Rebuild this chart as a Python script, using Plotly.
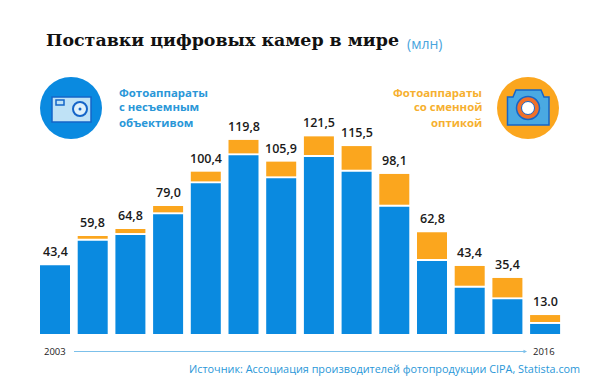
import plotly.graph_objects as go

years = list(range(2003, 2017))
labels = ["43,4", "59,8", "64,8", "79,0", "100,4", "119,8", "105,9", "121,5", "115,5", "98,1", "62,8", "43,4", "35,4", "13.0"]
fixed_lens = [42.4, 57.6, 61.1, 73.9, 93.0, 110.3, 96.1, 109.3, 100.2, 78.6, 45.1, 28.6, 21.4, 6.2]
interchangeable = [0, 1.7, 2.5, 3.9, 6.0, 8.3, 9.1, 11.5, 14.6, 19.0, 16.5, 12.2, 12.0, 4.3]
GAP = 1.2

W, H = 600, 387
PX_PER_UNIT = 1.62
ZERO_PX = 334
STEP = 37.7
FIRST = 55

BLUE = "#0a8ae0"
ORANGE = "#fba61e"
DARKBLUE = "#1565c8"
TXTBLUE = "#2a97d8"
TXTORANGE = "#f6b02f"

orange_base = [b + GAP for b in fixed_lens]
totals = [b + GAP + o if o else b for b, o in zip(fixed_lens, interchangeable)]

fig = go.Figure()
fig.add_bar(x=years, y=fixed_lens, marker_color=BLUE, marker_line_width=0, width=30 / STEP, name="fixed")
fig.add_bar(x=years, y=interchangeable, base=orange_base, marker_color=ORANGE, marker_line_width=0, width=30 / STEP, name="interchangeable")

def px(x):
    return x / W
def py(y):
    return 1 - y / H

shapes = []
def circle(cx, cy, r, fill, line=None, lw=0):
    shapes.append(dict(type="circle", xref="paper", yref="paper", x0=px(cx - r), x1=px(cx + r),
                       y0=py(cy + r), y1=py(cy - r), fillcolor=fill,
                       line=dict(color=line or fill, width=lw)))
def rect(x0, y0, x1, y1, fill, line=None, lw=0):
    shapes.append(dict(type="rect", xref="paper", yref="paper", x0=px(x0), x1=px(x1),
                       y0=py(y1), y1=py(y0), fillcolor=fill,
                       line=dict(color=line or fill, width=lw)))
def poly(points, fill, line, lw):
    d = "M " + " L ".join(f"{px(x):.5f},{py(y):.5f}" for x, y in points) + " Z"
    shapes.append(dict(type="path", xref="paper", yref="paper", path=d, fillcolor=fill,
                       line=dict(color=line, width=lw)))

# left icon
circle(71, 108, 31, BLUE)
rect(52, 97, 91, 122, "#bfe2f6", DARKBLUE, 1.5)
rect(56, 100, 64, 105, "#bfe2f6", DARKBLUE, 1.5)
circle(80, 109, 7, "#dff1fb", DARKBLUE, 2)
circle(80, 109, 1.5, DARKBLUE)
# right icon
circle(528, 108, 31, ORANGE)
poly([(507.5, 97), (513, 97), (516, 90), (541, 90), (544, 97), (549, 97), (549, 125), (507.5, 125)], "#4aa9e2", DARKBLUE, 1.5)
circle(528, 108, 11.5, "#f0702a", DARKBLUE, 1.5)
circle(528, 108, 6.5, "#ffffff", DARKBLUE, 1)

# timeline arrow
shapes.append(dict(type="line", xref="paper", yref="paper", x0=px(74), x1=px(526), y0=py(351.5), y1=py(351.5),
                   line=dict(color="#7cc0ea", width=1)))

anns = []
PAD = 2
def text(x, y, s, size, color, anchor="left", family="Open Sans", weight=400):
    xp = x - PAD if anchor == "left" else x + PAD
    anns.append(dict(xref="paper", yref="paper", x=px(xp), y=py(y), text=s, showarrow=False, xanchor=anchor,
                     yanchor="middle", align=anchor, font=dict(family=family, size=size, color=color, weight=weight)))

for yr, t, lab in zip(years, totals, labels):
    anns.append(dict(xref="x", yref="y", x=yr, y=t, text=lab, showarrow=False, xanchor="center", yanchor="bottom",
                     yshift=4, borderpad=0, font=dict(family="Open Sans", size=12.5, color="#1a1a1a", weight=600)))

text(46, 40, "Поставки цифровых камер в мире", 17.4, "#111111", family="DejaVu Serif", weight=700)
text(407, 43, "(млн)", 14, "#4aa5dd")
for i, s in enumerate(["Фотоаппараты", "с несъемным", "объективом"]):
    text(119, 92 + 15 * i, s, 11.4, TXTBLUE, weight=700)
for i, s in enumerate(["Фотоаппараты", "со сменной", "оптикой"]):
    text(482, 92 + 15 * i, s, 11.4, TXTORANGE, anchor="right", weight=700)
text(44, 351.5, "2003", 9.5, "#222222")
text(555, 351.5, "2016", 9.5, "#222222", anchor="right")
text(580, 368, "Источник: Ассоциация производителей фотопродукции CIPA, Statista.com", 10.85, TXTBLUE, anchor="right")
anns.append(dict(xref="paper", yref="paper", x=px(527), y=py(351.5), ax=-7, ay=0,
                 text="", showarrow=True, arrowhead=2, arrowsize=0.7, arrowwidth=1, arrowcolor="#7cc0ea"))

fig.update_layout(
    width=W, height=H, autosize=False, showlegend=False, barmode="overlay",
    margin=dict(l=0, r=0, t=0, b=0), paper_bgcolor="white", plot_bgcolor="white",
    shapes=shapes, annotations=anns,
    xaxis=dict(range=[2003 - FIRST / STEP, 2003 + (W - FIRST) / STEP], visible=False, fixedrange=True),
    yaxis=dict(range=[-(H - ZERO_PX) / PX_PER_UNIT, ZERO_PX / PX_PER_UNIT], visible=False, fixedrange=True),
)
fig.write_html("out.html", config=dict(displayModeBar=False),
               post_script="document.body.style.margin='0';document.documentElement.style.overflow='hidden';")
